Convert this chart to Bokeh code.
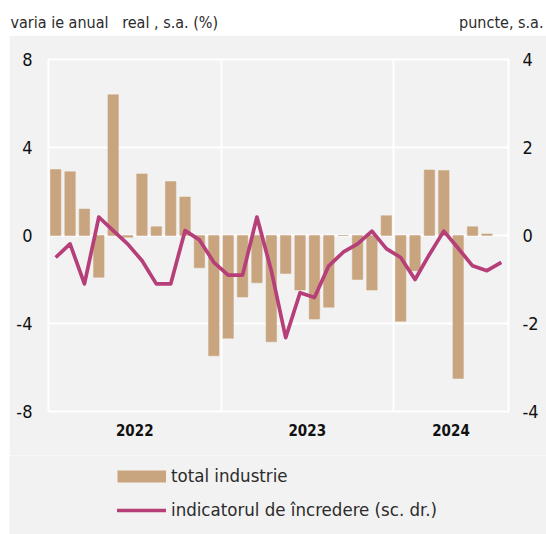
import numpy as np
from bokeh.plotting import figure
from bokeh.layouts import column, row
from bokeh.models import (Range1d, LinearAxis, FixedTicker, Legend, LegendItem,
                          ColumnDataSource, Spacer, Label)
from bokeh.embed import file_html
from bokeh.resources import INLINE

# ---- data -------------------------------------------------------------
months = [f"{y}-{m:02d}" for y in (2022, 2023, 2024) for m in range(1, 13)][:32]
years = ["2022", "2023", "2024"]
year_centers = [5.5, 17.5, 27.5]
year_bounds = [11.5, 23.5]

industrie = [3.0, 2.9, 1.2, -1.9, 6.4, -0.08, 2.8, 0.4, 2.45, 1.75, -1.47, -5.47,
             -4.67, -2.8, -2.15, -4.83, -1.73, -2.48, -3.8, -3.26, 0.0, -2.0, -2.48, 0.9,
             -3.9, -1.6, 2.98, 2.95, -6.5, 0.4, 0.07, float("nan")]
incredere = [-0.50, -0.19, -1.10, 0.42, 0.11, -0.19, -0.57, -1.10, -1.10, 0.11, -0.10, -0.61,
             -0.90, -0.90, 0.42, -0.80, -2.32, -1.30, -1.41, -0.69, -0.38, -0.19, 0.10, -0.30,
             -0.50, -1.00, -0.43, 0.10, -0.29, -0.69, -0.80, -0.61]

left_ticks = [-8, -4, 0, 4, 8]
right_ticks = [-4, -2, 0, 2, 4]

header_left = "varia\u00a0ie anual\u00a0\u00a0 real\u00a0, s.a. (%)"
header_right = "puncte, s.a."
label_bars = "total industrie"
label_line = "indicatorul de încredere (sc. dr.)"

# ---- style ------------------------------------------------------------
BG = "#f2f2f2"
BAR = "#c9a57f"
LINE = "#b63f79"
FONT = "DejaVu Sans Condensed, Roboto, sans-serif"
TXT = "#2b2b2b"

x = np.arange(len(months))

# ---- header -----------------------------------------------------------
W = 546
hdr = figure(width=W, height=35, x_range=Range1d(0, W), y_range=Range1d(0, 35),
             x_axis_type=None, y_axis_type=None, toolbar_location=None,
             output_backend="svg", min_border=0, outline_line_color=None,
             background_fill_color="white", border_fill_color="white")
hdr.grid.visible = False
hdr.add_layout(Label(x=10, y=13, text=header_left, text_font=FONT,
                     text_font_size="16px", text_color=TXT,
                     text_baseline="middle"))
hdr.add_layout(Label(x=543, y=13, text=header_right, text_font=FONT,
                     text_font_size="16px", text_color=TXT,
                     text_baseline="middle", text_align="right"))

# ---- main -------------------------------------------------------------
PW = 537
p = figure(width=PW, height=420, x_range=Range1d(-0.5, len(months) - 0.5),
           y_range=Range1d(-8, 8), toolbar_location=None, output_backend="svg",
           min_border_left=39, min_border_right=38, min_border_top=24,
           min_border_bottom=44, background_fill_color=BG, border_fill_color=BG,
           outline_line_color="white", outline_line_width=2)
p.extra_y_ranges = {"right": Range1d(-4, 4)}

p.xgrid.ticker = FixedTicker(ticks=year_bounds)
p.ygrid.ticker = FixedTicker(ticks=[-4, 0, 4])
for g in (p.xgrid, p.ygrid):
    g.grid_line_color = "white"
    g.grid_line_width = 2

src = ColumnDataSource(dict(x=x, ind=industrie, inc=incredere))
p.vbar(x="x", top="ind", bottom=0, width=0.73, source=src,
       fill_color=BAR, line_color=BAR, line_width=0.5)
p.line(x="x", y="inc", source=src, y_range_name="right",
       line_color=LINE, line_width=3.7, line_join="round")

xa = p.xaxis[0]
xa.ticker = FixedTicker(ticks=year_centers)
xa.major_label_overrides = {c: y for c, y in zip(year_centers, years)}
ya = p.yaxis[0]
ya.ticker = FixedTicker(ticks=left_ticks)
ya.major_label_overrides = {t: str(t) for t in left_ticks}
ra = LinearAxis(y_range_name="right", ticker=FixedTicker(ticks=right_ticks))
ra.major_label_overrides = {t: str(t) for t in right_ticks}
p.add_layout(ra, "right")

for ax in (xa, ya, ra):
    ax.axis_line_color = None
    ax.major_tick_line_color = None
    ax.minor_tick_line_color = None
    ax.major_tick_out = 0
    ax.major_tick_in = 0
    ax.minor_tick_out = 0
    ax.minor_tick_in = 0
    ax.major_label_text_font = FONT
    ax.major_label_text_color = "#111111"
    ax.major_label_text_font_size = "18px"
xa.major_label_text_font_style = "bold"
xa.major_label_text_font_size = "15px"
xa.major_label_standoff = 12
ya.major_label_standoff = 16
ra.major_label_standoff = 14

# ---- legend -----------------------------------------------------------
leg = figure(width=PW, height=79, x_range=Range1d(0, 1), y_range=Range1d(0, 1),
             x_axis_type=None, y_axis_type=None, toolbar_location=None,
             output_backend="svg", min_border=0, outline_line_color=None,
             background_fill_color=BG, border_fill_color=BG)
leg.grid.visible = False
sw_bar = leg.line(x=[5, 6], y=[5, 6], line_color=BAR, line_width=12, line_cap="butt")
sw_line = leg.line(x=[5, 6], y=[5, 6], line_color=LINE, line_width=3.7, line_cap="round")
legend = Legend(items=[LegendItem(label=label_bars, renderers=[sw_bar]),
                       LegendItem(label=label_line, renderers=[sw_line])],
                location=(108, 14), orientation="vertical",
                glyph_width=49, glyph_height=20, label_height=20, spacing=13,
                padding=0, margin=0, label_standoff=5,
                border_line_color=None, background_fill_alpha=0,
                label_text_font=FONT, label_text_font_size="18.5px",
                label_text_color=TXT)
leg.add_layout(legend, "center")

layout = column(hdr,
                row(Spacer(width=9, height=420), p, spacing=0),
                row(Spacer(width=9, height=79), leg, spacing=0),
                spacing=0)
open("out.html", "w").write(file_html(layout, INLINE))
